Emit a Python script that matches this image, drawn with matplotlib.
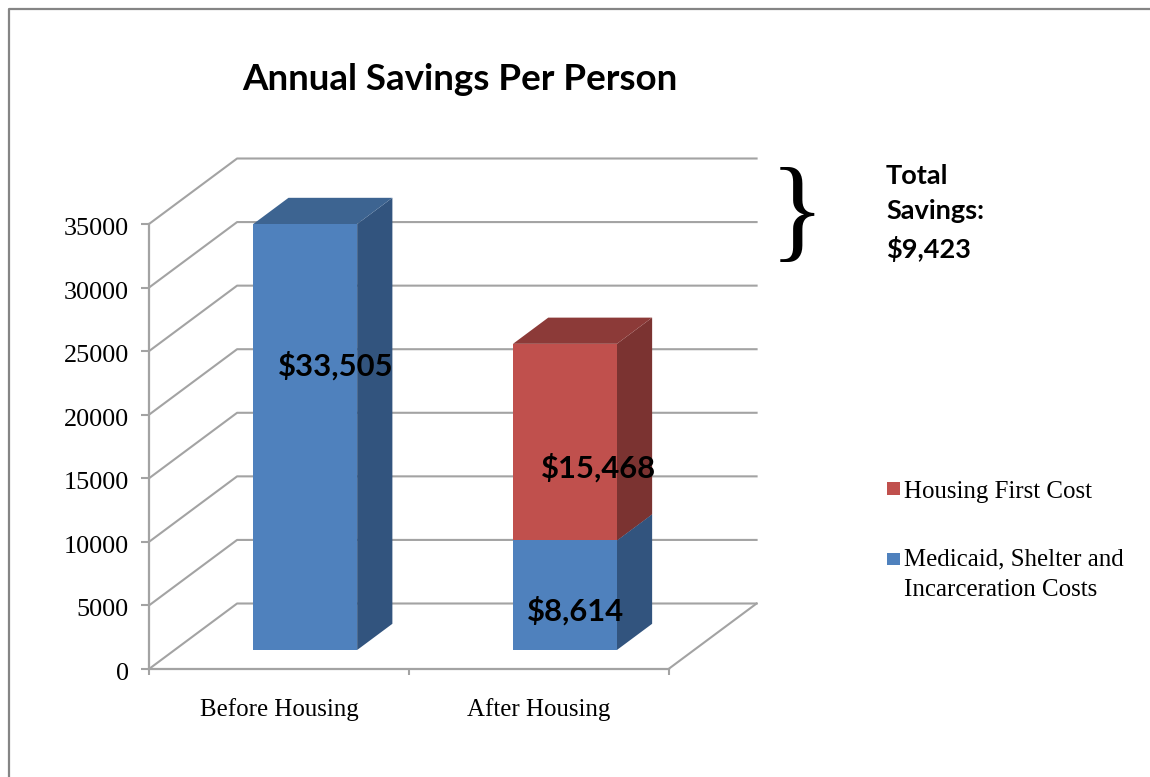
import matplotlib
matplotlib.use("Agg")
import matplotlib.pyplot as plt
from matplotlib.lines import Line2D
from matplotlib.patches import Rectangle
from matplotlib.transforms import ScaledTranslation

categories = ["Before Housing", "After Housing"]
medicaid_costs = [33505, 8614]
housing_costs = [0, 15468]
medicaid_labels = ["$33,505", "$8,614"]
housing_labels = ["", "$15,468"]
y_ticks = [0, 5000, 10000, 15000, 20000, 25000, 30000, 35000]
legend_names = ["Housing First Cost", "Medicaid, Shelter and\nIncarceration Costs"]

W, H = 1150, 777
SERIF = "Liberation Serif"
SANS = "Lato"
GRID = "#a3a3a3"
BLUE = "#4f81bd"
RED = "#c0504d"

# depth of the fake 3d box, in data units
DX = 88 / 259.5
DY = 65.5 / 445 * 35000
BAR_W = 0.4
BAR_OFF = 0.303
BAR_D0 = 0.29
BAR_D1 = 0.69


def proj(x, y, d):
    return x + d * DX, y + d * DY


def draw_box(ax, x0, x1, y0, y1, front, side, top):
    corners = [(x1, y0, BAR_D0), (x1, y0, BAR_D1), (x1, y1, BAR_D1), (x1, y1, BAR_D0)]
    xs, ys = zip(*[proj(*c) for c in corners])
    ax.fill(xs, ys, color=side, lw=0, zorder=3, clip_on=False)
    corners = [(x0, y1, BAR_D0), (x1, y1, BAR_D0), (x1, y1, BAR_D1), (x0, y1, BAR_D1)]
    xs, ys = zip(*[proj(*c) for c in corners])
    ax.fill(xs, ys, color=top, lw=0, zorder=3, clip_on=False)
    corners = [(x0, y0, BAR_D0), (x1, y0, BAR_D0), (x1, y1, BAR_D0), (x0, y1, BAR_D0)]
    xs, ys = zip(*[proj(*c) for c in corners])
    ax.fill(xs, ys, color=front, lw=0, zorder=4, clip_on=False)


fig = plt.figure(figsize=(W / 100, H / 100), dpi=100)
ax = fig.add_axes([149 / W, 1 - 669 / H, 519.5 / W, 445 / H])
ax.set_xlim(0, 2)
ax.set_ylim(0, 35000)
ax.patch.set_alpha(0)

# outer frame of the screenshot
fig.add_artist(Line2D([8.5 / W, 8.5 / W, 1], [0, 1 - 8.5 / H, 1 - 8.5 / H],
                      color="#858585", lw=1.6, transform=fig.transFigure))

# walls and floor
for v in y_ticks:
    bx, by = proj(0, v, 1)
    ax.plot([0, bx, 2 + DX], [v, by, by], color=GRID, lw=1.5, zorder=1, clip_on=False)
rx, ry = proj(2, 0, 1)
ax.plot([2, rx], [0, ry], color=GRID, lw=1.5, zorder=1, clip_on=False)

# stacked bars
for i in range(len(categories)):
    x0 = i + BAR_OFF
    x1 = x0 + BAR_W
    draw_box(ax, x0, x1, 0, medicaid_costs[i], BLUE, "#32547e", "#3d6491")
    if housing_costs[i] > 0:
        draw_box(ax, x0, x1, medicaid_costs[i], medicaid_costs[i] + housing_costs[i],
                 RED, "#7b3331", "#8c3a38")

# data labels
ax.text(0 + BAR_OFF + 0.192, 23850, medicaid_labels[0], fontsize=22.3, fontweight="bold",
        family=SANS, ha="left", va="center", zorder=5, clip_on=False)
ax.text(1 + BAR_OFF + 0.206, 15800, housing_labels[1], fontsize=22.3, fontweight="bold",
        family=SANS, ha="left", va="center", zorder=5, clip_on=False)
ax.text(1 + BAR_OFF + 0.152, 4550, medicaid_labels[1], fontsize=22.3, fontweight="bold",
        family=SANS, ha="left", va="center", zorder=5, clip_on=False)

# axes
for s in ["top", "right"]:
    ax.spines[s].set_visible(False)
for s in ["left", "bottom"]:
    ax.spines[s].set_color(GRID)
    ax.spines[s].set_linewidth(1.6)
ax.set_yticks(y_ticks)
ax.set_yticklabels([str(v) for v in y_ticks], fontsize=18.8, family=SERIF)
ax.set_xticks([0, 1, 2])
ax.set_xticklabels([])
ax.set_xticks([0.5, 1.5], minor=True)
ax.set_xticklabels(categories, minor=True, fontsize=17.9, family=SERIF)
ax.tick_params(axis="y", length=5.5, width=1.5, color=GRID, pad=9)
ax.tick_params(axis="x", which="major", length=4.5, width=1.5, color=GRID)
ax.tick_params(axis="x", which="minor", length=0, pad=21)
# labels sit a little under their ticks in the reference
shift = ScaledTranslation(0, -1.8 / 72, fig.dpi_scale_trans)
for lab in ax.get_yticklabels():
    lab.set_transform(lab.get_transform() + shift)

# title and annotation
fig.text(460 / W, 1 - 79 / H, "Annual Savings Per Person", fontsize=26.5, fontweight="bold",
         family=SANS, ha="center", va="center")
fig.text(797 / W, 1 - 219 / H, "}", fontsize=82, family=SERIF, ha="center", va="center")
fig.text(886 / W, 1 - 213 / H, "Total\nSavings:\n$9,423", fontsize=19.5, fontweight="bold",
         family=SANS, ha="left", va="center", linespacing=1.56)

# legend, drawn by hand so the swatch lines up with the first text line
swatch_y = [488.5, 559]
text_top = [481, 548]
legend_colors = [RED, BLUE]
for name, sy, ty, c in zip(legend_names, swatch_y, text_top, legend_colors):
    fig.add_artist(Rectangle((887 / W, 1 - (sy + 6.25) / H), 12.5 / W, 12.5 / H, color=c, lw=0,
                             transform=fig.transFigure))
    fig.text(904 / W, 1 - ty / H, name, fontsize=17.9, family=SERIF, ha="left", va="top",
             linespacing=1.53)

fig.savefig("out.png", dpi=100)
